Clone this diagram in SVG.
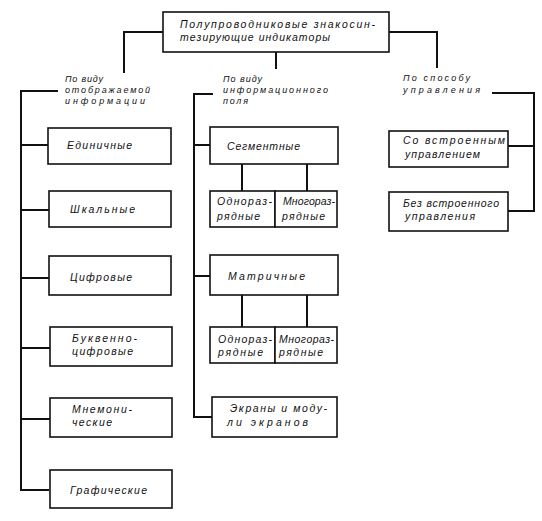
<svg xmlns="http://www.w3.org/2000/svg" width="542" height="521" viewBox="0 0 542 521">
<style>
  .box { fill: #fff; stroke: #111; stroke-width: 1.6; }
  .conn { fill: none; stroke: #111; stroke-width: 2; stroke-linecap: square; }
  text { font-family: "Liberation Sans", "DejaVu Sans", sans-serif; font-style: italic; font-size: 10.5px; fill: #111; }
  .lbl text { font-size: 9px; }
</style>
<rect width="542" height="521" fill="#fff"/>
<g id="connectors">
  <polyline class="conn" points="163,32 124,32 124,72"/>
  <line class="conn" x1="276" y1="52" x2="276" y2="68"/>
  <polyline class="conn" points="389,32 437,32 437,67"/>
  <polyline class="conn" points="57,91 21,91 21,490 48,490"/>
  <line class="conn" x1="21" y1="145" x2="48" y2="145"/>
  <line class="conn" x1="21" y1="210" x2="48" y2="210"/>
  <line class="conn" x1="21" y1="278" x2="48" y2="278"/>
  <line class="conn" x1="21" y1="348" x2="50" y2="348"/>
  <line class="conn" x1="21" y1="419" x2="50" y2="419"/>
  <polyline class="conn" points="212,94 194,94 194,417 212,417"/>
  <line class="conn" x1="194" y1="145" x2="210" y2="145"/>
  <line class="conn" x1="194" y1="276" x2="210" y2="276"/>
  <line class="conn" x1="242" y1="164" x2="242" y2="191"/>
  <line class="conn" x1="307" y1="164" x2="307" y2="191"/>
  <line class="conn" x1="242" y1="295" x2="242" y2="327"/>
  <line class="conn" x1="307" y1="295" x2="307" y2="327"/>
  <polyline class="conn" points="493,93 534,93 534,211 508,211"/>
  <line class="conn" x1="508" y1="146" x2="534" y2="146"/>
</g>
<g id="root">
  <rect class="box" x="163" y="12" width="226" height="40"/>
  <text x="180" y="28" textLength="195" lengthAdjust="spacing">Полупроводниковые знакосин-</text>
  <text x="180" y="41" textLength="150" lengthAdjust="spacing">тезирующие индикаторы</text>
</g>
<g id="label-display" class="lbl">
  <text x="65" y="82" textLength="38" lengthAdjust="spacing">По виду</text>
  <text x="65" y="93" textLength="85" lengthAdjust="spacing">отображаемой</text>
  <text x="65" y="104" textLength="80" lengthAdjust="spacing">информации</text>
</g>
<g id="label-field" class="lbl">
  <text x="223" y="82" textLength="39" lengthAdjust="spacing">По виду</text>
  <text x="223" y="93" textLength="105" lengthAdjust="spacing">информационного</text>
  <text x="223" y="104" textLength="25" lengthAdjust="spacing">поля</text>
</g>
<g id="label-control" class="lbl">
  <text x="403" y="81" textLength="67" lengthAdjust="spacing">По способу</text>
  <text x="403" y="93" textLength="77" lengthAdjust="spacing">управления</text>
</g>
<g id="n-edinichnye">
  <rect class="box" x="48" y="128" width="123" height="36"/>
  <text x="67" y="149" textLength="65" lengthAdjust="spacing">Единичные</text>
</g>
<g id="n-shkalnye">
  <rect class="box" x="49" y="191" width="122" height="36"/>
  <text x="70" y="213" textLength="65" lengthAdjust="spacing">Шкальные</text>
</g>
<g id="n-cifrovye">
  <rect class="box" x="49" y="256" width="122" height="39"/>
  <text x="70" y="281" textLength="62" lengthAdjust="spacing">Цифровые</text>
</g>
<g id="n-bukvenno">
  <rect class="box" x="50" y="327" width="122" height="39"/>
  <text x="72" y="342" textLength="65" lengthAdjust="spacing">Буквенно-</text>
  <text x="72" y="355" textLength="61" lengthAdjust="spacing">цифровые</text>
</g>
<g id="n-mnemonicheskie">
  <rect class="box" x="50" y="398" width="122" height="39"/>
  <text x="72" y="413" textLength="60" lengthAdjust="spacing">Мнемони-</text>
  <text x="72" y="426" textLength="40" lengthAdjust="spacing">ческие</text>
</g>
<g id="n-graficheskie">
  <rect class="box" x="50" y="470" width="122" height="38"/>
  <text x="70" y="494" textLength="77" lengthAdjust="spacing">Графические</text>
</g>
<g id="n-segmentnye">
  <rect class="box" x="210" y="127" width="128" height="37"/>
  <text x="227" y="150" textLength="73" lengthAdjust="spacing">Сегментные</text>
</g>
<g id="n-seg-odno">
  <rect class="box" x="210" y="191" width="65" height="36"/>
  <text x="217" y="205" textLength="55" lengthAdjust="spacing">Однораз-</text>
  <text x="217" y="220" textLength="43" lengthAdjust="spacing">рядные</text>
</g>
<g id="n-seg-mnogo">
  <rect class="box" x="275" y="191" width="62" height="36"/>
  <text x="283" y="205" textLength="52" lengthAdjust="spacing">Многораз-</text>
  <text x="282" y="220" textLength="43" lengthAdjust="spacing">рядные</text>
</g>
<g id="n-matrichnye">
  <rect class="box" x="210" y="255" width="128" height="40"/>
  <text x="228" y="280" textLength="77" lengthAdjust="spacing">Матричные</text>
</g>
<g id="n-mat-odno">
  <rect class="box" x="210" y="327" width="65" height="36"/>
  <text x="218" y="343" textLength="54" lengthAdjust="spacing">Однораз-</text>
  <text x="218" y="356" textLength="45" lengthAdjust="spacing">рядные</text>
</g>
<g id="n-mat-mnogo">
  <rect class="box" x="275" y="327" width="62" height="36"/>
  <text x="279" y="343" textLength="55" lengthAdjust="spacing">Многораз-</text>
  <text x="279" y="356" textLength="44" lengthAdjust="spacing">рядные</text>
</g>
<g id="n-ekrany">
  <rect class="box" x="212" y="397" width="125" height="40"/>
  <text x="230" y="412" textLength="97" lengthAdjust="spacing">Экраны и моду-</text>
  <text x="227" y="426" textLength="81" lengthAdjust="spacing">ли экранов</text>
</g>
<g id="n-so-vstroennym">
  <rect class="box" x="389" y="131" width="119" height="36"/>
  <text x="403" y="144" textLength="102" lengthAdjust="spacing">Со встроенным</text>
  <text x="405" y="158" textLength="75" lengthAdjust="spacing">управлением</text>
</g>
<g id="n-bez-vstroennogo">
  <rect class="box" x="389" y="192" width="119" height="39"/>
  <text x="403" y="207" textLength="96" lengthAdjust="spacing">Без встроенного</text>
  <text x="405" y="220" textLength="70" lengthAdjust="spacing">управления</text>
</g>
</svg>
